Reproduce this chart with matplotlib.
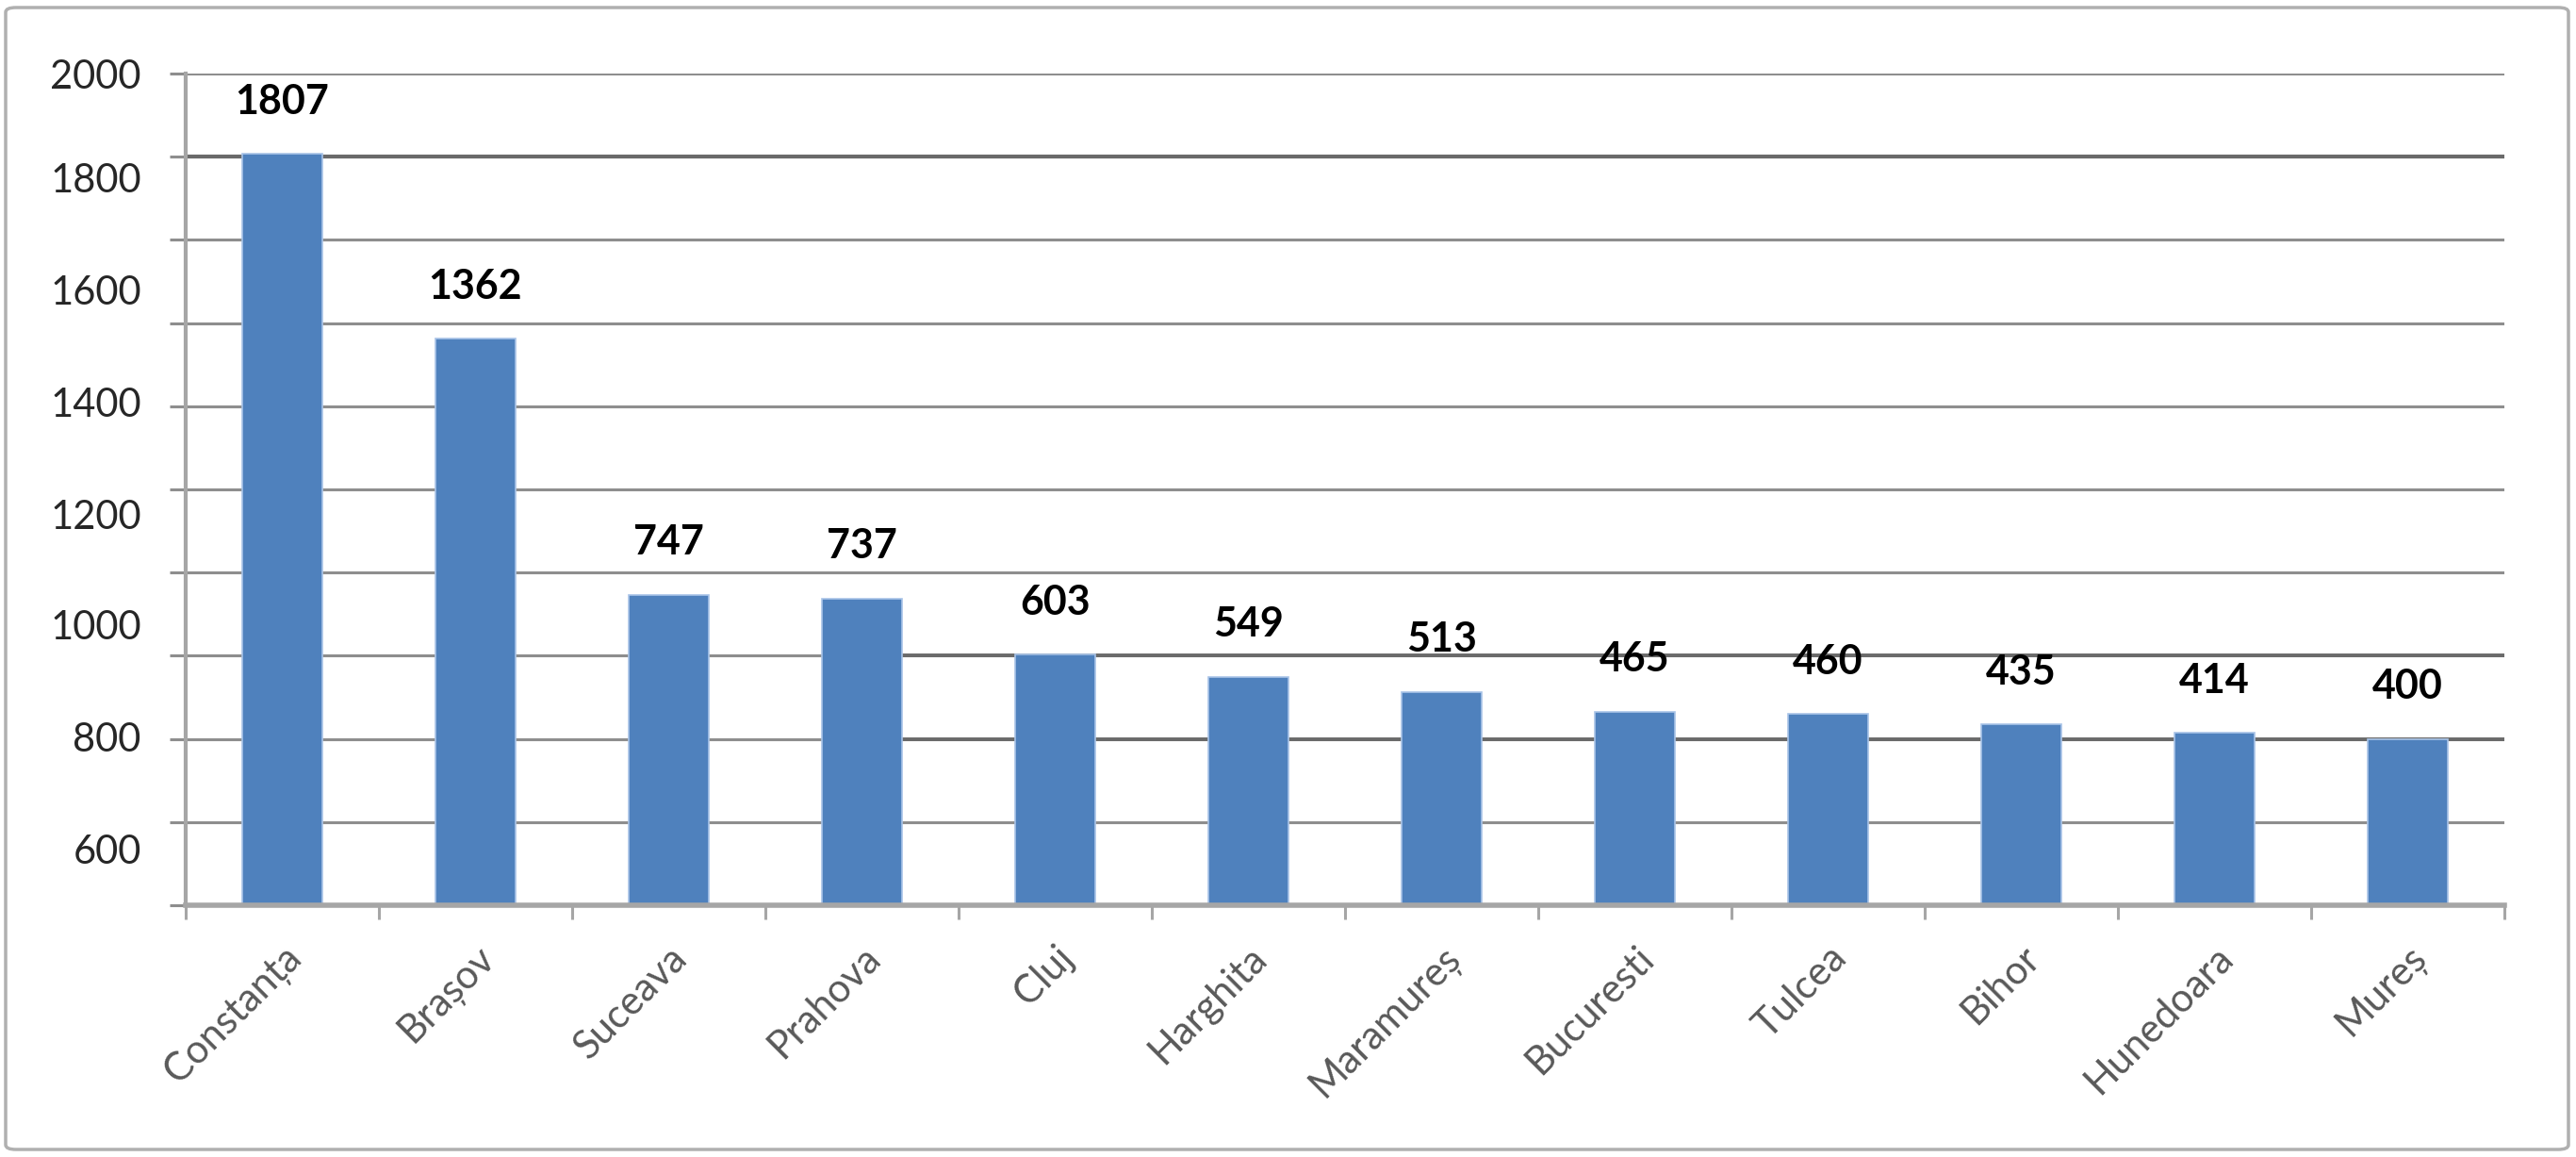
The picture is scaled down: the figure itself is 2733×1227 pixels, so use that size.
import matplotlib
matplotlib.use("Agg")
import matplotlib.pyplot as plt
from matplotlib.patches import FancyBboxPatch
import numpy as np

plt.rcParams["font.family"] = ["Lato", "DejaVu Sans"]

counties = ["Constanța", "Brașov", "Suceava", "Prahova", "Cluj", "Harghita",
            "Maramureș", "Bucuresti", "Tulcea", "Bihor", "Hunedoara", "Mureș"]
values = [1807, 1362, 747, 737, 603, 549, 513, 465, 460, 435, 414, 400]

# y tick labels as they appear on the picture (not aligned with the grid)
ytick_labels = ["2000", "1800", "1600", "1400", "1200", "1000", "800", "600"]
ytick_label_pos = [2000, 1750, 1480, 1210, 940, 675, 405, 135]
grid_levels = list(range(0, 2001, 200))

bar_color = "#4F81BD"
grid_color = "#8E8E8E"
dark_grid = "#6A6A6A"
axis_color = "#A6A6A6"

fig = plt.figure(figsize=(27.33, 12.27), dpi=100)
ax = fig.add_axes([197 / 2733, 1 - 960 / 1227, (2657 - 197) / 2733, (960 - 78) / 1227])

x = np.arange(len(counties))
ax.bar(x, values, width=0.41, color=bar_color, edgecolor="#A9C4E8", linewidth=1.2, zorder=3)

for xi, v in zip(x, values):
    ax.annotate(str(v), (xi, v), xytext=(0, 40), textcoords="offset points",
                ha="center", va="center", fontsize=31, fontweight="bold", color="black", zorder=4)

ax.set_xlim(-0.5, len(counties) - 0.5)
ax.set_ylim(0, 2000)

# gridlines on major y ticks, labels on minor positions
ax.set_yticks(grid_levels)
ax.set_yticklabels([])
ax.set_yticks(ytick_label_pos, minor=True)
ax.set_yticklabels(ytick_labels, minor=True)
ax.yaxis.remove_overlapping_locs = False
ax.tick_params(axis="y", which="major", length=12, width=2.2, color=grid_color, direction="out")
ax.tick_params(axis="y", which="minor", length=0, pad=34, labelsize=30, labelcolor="#262626")

ax.set_xticks(np.arange(-0.5, len(counties), 1))
ax.set_xticklabels([])
ax.set_xticks(x, minor=True)
ax.set_xticklabels(counties, minor=True, rotation=45, ha="right", va="top",
                   rotation_mode="anchor")
ax.tick_params(axis="x", which="major", length=11, width=2.2, color=axis_color, direction="out")
ax.tick_params(axis="x", which="minor", length=0, pad=26, labelsize=30, labelcolor="#595959")

for lvl in grid_levels[1:]:
    lw, col = (3.0, dark_grid) if lvl == 1800 else (2.2, grid_color)
    ax.axhline(lvl, color=col, linewidth=lw, zorder=1)
for lvl in [600, 400]:
    ax.hlines(lvl, 3.2, len(counties) - 0.5, color=dark_grid, linewidth=2.8, zorder=1)

for side in ["top", "right"]:
    ax.spines[side].set_visible(False)
ax.spines["left"].set_color(axis_color)
ax.spines["left"].set_linewidth(3.0)
ax.spines["bottom"].set_color(axis_color)
ax.spines["bottom"].set_linewidth(4.0)
ax.spines["bottom"].set_zorder(5)

frame = FancyBboxPatch((6 / 2733, 8 / 1227), 1 - 14 / 2733, 1 - 16 / 1227,
                       boxstyle="round,pad=0,rounding_size=0.004", transform=fig.transFigure,
                       fill=False, edgecolor="#B0B0B0", linewidth=2.5)
fig.patches.append(frame)

fig.savefig("out.png", dpi=100)
